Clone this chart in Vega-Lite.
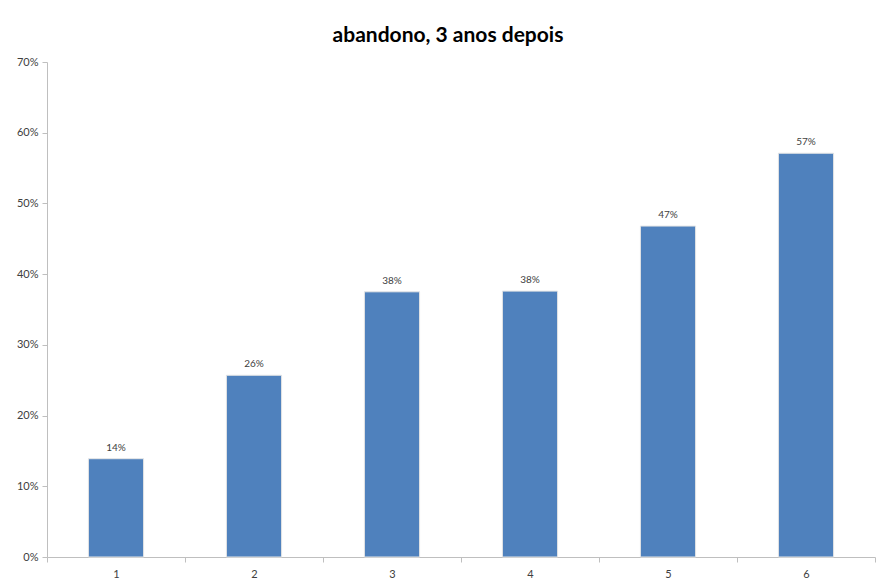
{
  "$schema": "https://vega.github.io/schema/vega-lite/v6.json",
  "width": 828,
  "height": 495,
  "autosize": {"type": "none"},
  "padding": {"left": 47, "top": 62, "right": 2, "bottom": 24},
  "background": "white",
  "title": {
    "text": "abandono, 3 anos depois",
    "font": "Lato",
    "fontSize": 21,
    "fontWeight": "bold",
    "color": "#000000",
    "anchor": "middle",
    "offset": 10,
    "dx": -13,
    "frame": "group"
  },
  "config": {
    "view": {"stroke": null},
    "axis": {"labelFont": "Lato", "labelColor": "#404040", "labelFontSize": 11, "domainColor": "#bfbfbf", "tickColor": "#bfbfbf", "grid": false, "title": null}
  },
  "data": {
    "values": [
      {"cat": "1", "value": 0.139},
      {"cat": "2", "value": 0.257},
      {"cat": "3", "value": 0.375},
      {"cat": "4", "value": 0.376},
      {"cat": "5", "value": 0.468},
      {"cat": "6", "value": 0.571}
    ]
  },
  "encoding": {
    "x": {
      "field": "cat",
      "type": "ordinal",
      "scale": {"paddingInner": 0, "paddingOuter": 0},
      "axis": {"labelAngle": 0, "tickBand": "extent", "tickSize": 5, "labelPadding": 6}
    },
    "y": {
      "field": "value",
      "type": "quantitative",
      "scale": {"domain": [0, 0.7]},
      "axis": {"format": ".0%", "values": [0, 0.1, 0.2, 0.3, 0.4, 0.5, 0.6, 0.7], "tickSize": 5, "labelPadding": 4}
    }
  },
  "layer": [
    {"mark": {"type": "bar", "color": "#4f81bd", "stroke": "#e6e6e6", "strokeWidth": 1, "width": {"band": 0.4}}},
    {
      "mark": {"type": "text", "baseline": "bottom", "dy": -6, "font": "Lato", "fontSize": 10, "color": "#404040"},
      "encoding": {"text": {"field": "value", "type": "quantitative", "format": ".0%"}}
    }
  ]
}
